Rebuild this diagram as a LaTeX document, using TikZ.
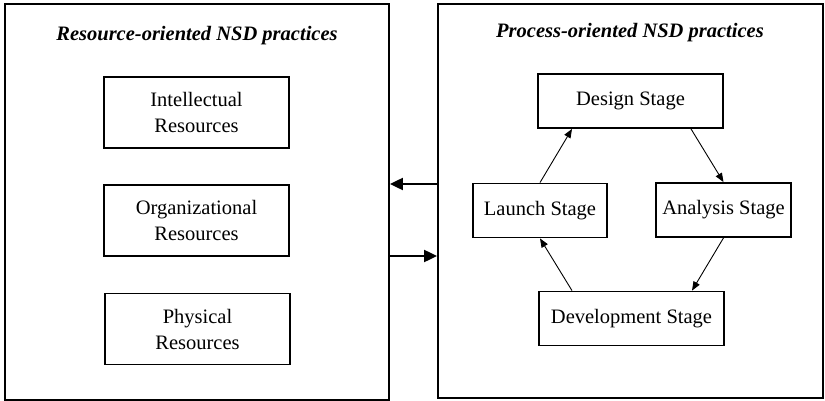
\documentclass[tikz,border=0pt]{standalone}
\usepackage{fontspec}
\setmainfont{Liberation Serif}
\usetikzlibrary{calc}
\usetikzlibrary{positioning}
\usetikzlibrary{arrows.meta}
\tikzset{
panel/.style={rectangle,draw,black,line width=1.8pt,inner sep=0pt,anchor=center},
heading/.style={font=\fontsize{20.5}{24}\selectfont\bfseries\itshape,inner sep=0pt},
resbox/.style={rectangle,draw,black,line width=1.8pt,align=center,inner sep=0pt,
  minimum width=185pt,minimum height=71pt,font=\fontsize{20.5}{26}\selectfont},
stagebox/.style={resbox,minimum height=54pt},
link/.style={black,line width=2pt,-{Triangle[length=13pt,width=12pt]}},
cycle/.style={black,line width=0.9pt,-{Triangle[length=9pt,width=7pt]}}
}
\begin{document}
\begin{tikzpicture}[x=1pt,y=-1pt]
    \useasboundingbox (0,0) rectangle (825,401);
    %
    \node[panel,minimum width=384pt,minimum height=396pt](resource) at (197,202) {};
    \node[panel,minimum width=385pt,minimum height=394pt](process) at (630.5,201) {};
    \node[heading](restitle) at (197,36) {Resource-oriented NSD practices};
    \node[heading](protitle) at (630,33) {Process-oriented NSD practices};
    %
    \node[resbox](intel) at (196.5,112.5) {Intellectual\\Resources};
    \node[resbox](organ) at (196.5,220.5) {Organizational\\Resources};
    \node[resbox](phys) at (197.5,329) {Physical\\Resources};
    %
    \node[stagebox](design) at (630.5,101) {Design Stage};
    \node[stagebox,minimum width=134pt](launch) at (540,210.5) {Launch Stage};
    \node[stagebox,minimum width=135pt](analysis) at (723.5,210) {Analysis Stage};
    \node[stagebox](develop) at (631.5,318.5) {Development Stage};
    %
    \draw[link] ([yshift=17pt]process.west) -- ([yshift=17pt]process.west -| resource.east);
    \draw[link] ([yshift=-55pt]process.west -| resource.east) -- ([yshift=-55pt]process.west);
    %
    \draw[cycle] (launch.north) -- ([xshift=-58.5pt]design.south);
    \draw[cycle] ([xshift=60.5pt]design.south) -- (analysis.north);
    \draw[cycle] (analysis.south) -- ([xshift=60.5pt]develop.north);
    \draw[cycle] ([xshift=-59.5pt]develop.north) -- (launch.south);
  \end{tikzpicture}
\end{document}
